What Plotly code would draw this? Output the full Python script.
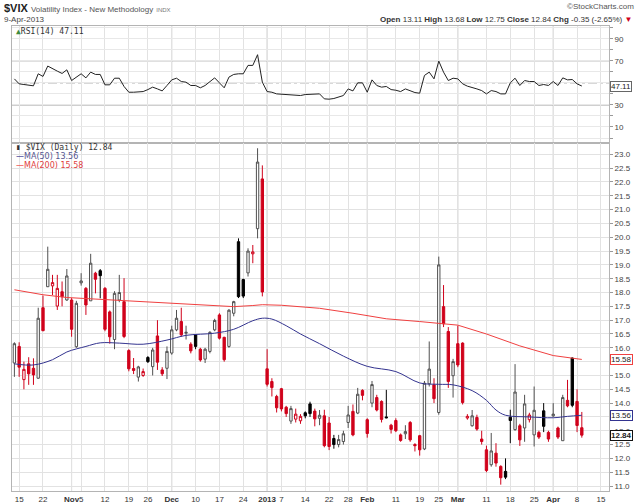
import plotly.graph_objects as go
from plotly.subplots import make_subplots

# $VIX daily, 12-Oct-2012 .. 9-Apr-2013, trading days only (x = day number)
opens = [15.45, 16.05, 14.85, 15.42, 15.26, 14.90, 17.45, 18.21, 18.24, 17.51,
         18.03, 17.73, 17.73, 16.04, 18.35, 18.15, 17.70, 18.70, 18.79, 18.15,
         17.30, 16.30, 17.73, 17.67, 15.90, 15.25, 14.94, 15.00, 15.65, 15.32,
         16.43, 15.20, 15.26, 15.81, 16.65, 16.95, 16.53, 16.13, 16.47, 15.95,
         15.59, 15.87, 16.65, 17.19, 16.38, 16.05, 17.25, 19.84, 18.47, 18.71,
         19.40, 20.31, 22.11, 15.24, 14.78, 14.24, 14.52, 13.85, 13.35, 13.42,
         13.36, 13.65, 13.97, 13.71, 13.45, 13.54, 13.28, 12.72, 12.50, 12.61,
         13.30, 13.70, 13.64, 14.46, 13.40, 14.00, 14.20, 14.06, 13.50, 13.20,
         13.37, 12.85, 12.89, 13.30, 12.50, 12.82, 12.34, 14.70, 14.66, 13.66,
         17.49, 16.59, 14.99, 16.15, 16.17, 13.46, 13.18, 13.48, 12.70, 12.31,
         11.77, 12.19, 11.71, 11.53, 13.49, 13.04, 13.18, 13.10, 13.40, 12.85,
         12.94, 13.72, 12.94, 13.54, 13.10, 12.64, 14.10, 15.63, 14.06, 13.11]
highs = [16.20, 16.20, 15.50, 15.66, 15.62, 17.45, 17.89, 19.66, 18.64, 18.64,
         18.40, 18.85, 17.80, 17.70, 18.70, 18.20, 19.40, 18.75, 18.85, 18.20,
         17.35, 18.05, 18.64, 18.52, 15.95, 15.63, 15.35, 15.25, 15.70, 16.00,
         17.00, 15.30, 16.05, 16.80, 17.37, 17.45, 16.80, 16.20, 16.50, 16.00,
         16.00, 16.60, 17.05, 17.25, 16.40, 17.40, 17.70, 19.96, 18.50, 19.60,
         19.72, 23.22, 22.60, 15.95, 14.90, 14.30, 14.55, 13.90, 13.90, 13.80,
         13.60, 13.70, 14.05, 13.80, 13.75, 13.76, 13.50, 12.85, 12.85, 13.00,
         13.90, 13.95, 14.55, 14.50, 13.45, 14.80, 14.30, 14.10, 14.48, 13.25,
         13.45, 12.90, 13.20, 13.35, 12.55, 12.85, 14.80, 16.23, 14.90, 19.30,
         18.27, 16.75, 15.60, 16.80, 16.20, 13.60, 13.75, 13.58, 13.00, 12.46,
         12.92, 12.55, 11.75, 12.00, 13.76, 15.41, 13.25, 14.30, 13.65, 14.60,
         13.00, 14.00, 13.00, 14.00, 13.15, 14.30, 14.84, 15.65, 14.50, 13.68]
lows = [14.95, 14.95, 14.50, 14.66, 14.66, 14.88, 16.60, 18.20, 17.91, 17.37,
        17.50, 17.70, 16.40, 16.00, 18.25, 17.19, 17.70, 17.97, 17.79, 16.60,
        16.15, 15.95, 17.65, 16.35, 15.15, 15.05, 14.78, 14.95, 15.45, 15.00,
        15.20, 14.98, 14.87, 15.75, 16.60, 16.40, 16.30, 15.80, 15.95, 15.50,
        15.45, 15.80, 16.60, 16.30, 15.50, 16.00, 17.14, 17.80, 17.80, 18.58,
        19.06, 19.96, 17.86, 14.60, 14.24, 13.66, 13.70, 13.50, 13.25, 13.30,
        13.25, 13.45, 13.50, 13.16, 13.20, 12.40, 12.30, 12.35, 12.40, 12.50,
        13.10, 12.80, 13.60, 14.10, 12.75, 13.85, 13.70, 13.30, 13.45, 12.90,
        12.95, 12.60, 12.70, 12.60, 12.25, 12.10, 12.30, 14.60, 14.00, 13.58,
        16.75, 14.55, 14.20, 15.30, 13.95, 13.40, 13.15, 13.00, 12.50, 11.50,
        11.70, 11.70, 11.05, 11.25, 12.55, 13.00, 12.45, 12.60, 13.30, 12.43,
        12.70, 12.95, 12.60, 13.50, 12.70, 12.64, 13.85, 13.85, 12.95, 12.75]
closes = [16.15, 15.30, 15.22, 15.06, 15.02, 17.07, 16.62, 18.84, 18.36, 18.15,
          17.85, 18.60, 16.67, 17.61, 18.42, 17.55, 19.06, 18.48, 18.61, 16.67,
          16.40, 17.97, 18.00, 16.41, 15.24, 15.18, 15.31, 15.14, 15.50, 15.92,
          15.48, 15.06, 15.87, 16.65, 17.07, 16.47, 16.56, 15.89, 16.05, 15.56,
          15.95, 16.56, 16.99, 16.35, 15.57, 17.36, 17.67, 17.85, 17.87, 19.50,
          19.47, 22.72, 18.02, 14.68, 14.56, 13.83, 13.79, 13.62, 13.80, 13.60,
          13.52, 13.54, 13.62, 13.43, 13.56, 12.46, 12.43, 12.50, 12.68, 12.89,
          13.57, 12.85, 14.32, 14.28, 12.90, 14.67, 13.75, 13.41, 13.47, 13.05,
          13.00, 12.65, 12.97, 12.67, 12.46, 12.31, 14.72, 15.23, 14.16, 19.00,
          16.87, 14.78, 15.50, 15.38, 14.02, 13.52, 13.54, 13.06, 12.61, 11.56,
          12.27, 11.83, 11.30, 11.32, 13.37, 14.40, 12.67, 13.97, 13.57, 13.74,
          12.77, 13.16, 12.70, 13.60, 12.77, 14.20, 13.90, 13.92, 13.19, 12.84]

rsi = [53.6, 49.1, 48.5, 48.2, 47.3, 58.2, 55.8, 65.2, 62.7, 60.6,
       58.5, 61.8, 52.1, 55.2, 58.2, 54.5, 59.7, 57.6, 57.6, 48.2,
       48.2, 54.2, 54.2, 46.7, 41.5, 41.5, 41.8, 42.1, 43.9, 46.1,
       44.5, 42.7, 47.6, 52.7, 54.2, 51.2, 50.6, 47.6, 47.6, 45.5,
       47.6, 51.5, 54.5, 50.0, 45.5, 55.2, 57.6, 58.2, 58.2, 65.8,
       65.8, 75.5, 50.6, 42.1, 41.5, 40.0, 39.7, 39.4, 39.1, 39.1,
       38.5, 39.4, 39.7, 39.4, 40.0, 35.5, 35.2, 35.8, 37.0, 38.5,
       44.5, 42.7, 50.0, 50.0, 41.5, 52.7, 47.6, 46.1, 46.7, 43.9,
       43.3, 42.1, 44.5, 42.7, 41.2, 40.6, 56.7, 59.7, 53.6, 69.7,
       59.7, 52.1, 54.2, 53.6, 49.1, 47.0, 46.1, 44.5, 43.0, 40.0,
       43.0, 42.1, 40.0, 40.0, 50.0, 54.2, 47.6, 52.1, 51.2, 51.2,
       47.6, 48.5, 47.6, 51.2, 47.6, 54.5, 52.7, 53.0, 49.1, 47.11]

# moving averages at some days
ma50_day = [0, 4, 8, 11, 15, 18, 22, 27, 32, 36, 42, 46, 50, 52, 54, 57, 60, 64,
            69, 74, 80, 85, 89, 92, 96, 99, 101, 103, 108, 113, 116, 119]
ma50 = [15.42, 15.38, 15.57, 15.85, 16.05, 16.18, 16.17, 16.13, 16.28, 16.45,
        16.53, 16.67, 16.98, 17.07, 17.04, 16.80, 16.50, 16.15, 15.70, 15.33,
        15.14, 14.73, 14.68, 14.66, 14.45, 14.10, 13.75, 13.56, 13.50, 13.47,
        13.52, 13.56]
ma200_day = [0, 6, 11, 20, 28, 34, 42, 46, 50, 52, 56, 60, 64, 71, 78, 85, 90,
             93, 99, 106, 113, 119]
ma200 = [18.10, 17.92, 17.82, 17.73, 17.67, 17.60, 17.52, 17.49, 17.53, 17.56,
         17.54, 17.49, 17.43, 17.25, 17.05, 16.95, 16.88, 16.82, 16.50, 16.07,
         15.72, 15.58]

tick_day = [1, 6, 12, 14, 19, 24, 28, 33, 38, 43, 48, 53, 56, 61, 66, 70, 74,
            80, 85, 89, 93, 99, 104, 109, 113, 118, 123]
tick_text = ['15', '22', '<b>Nov</b>', '5', '12', '19', '26', '<b>Dec</b>', '10',
             '17', '24', '<b>2013</b>', '7', '14', '22', '28', '<b>Feb</b>', '11',
             '19', '25', '<b>Mar</b>', '11', '18', '25', '<b>Apr</b>', '8', '15']
month_day = [12, 33, 53, 74, 93, 113]

days = list(range(len(closes)))
# StockCharts colouring: black when close >= previous close, red otherwise
up = [i == 0 or closes[i] >= closes[i - 1] for i in days]

RED = '#d0021b'
GREY = '#505050'

fig = make_subplots(rows=2, cols=1, shared_xaxes=True, vertical_spacing=0,
                    row_heights=[0.2516, 0.7484])

for flag, col_line, col_fill in [(True, GREY, 'black'), (False, RED, RED)]:
    sel = [i for i in days if up[i] == flag]
    fig.add_trace(go.Candlestick(
        x=sel,
        open=[opens[i] for i in sel], high=[highs[i] for i in sel],
        low=[lows[i] for i in sel], close=[closes[i] for i in sel],
        increasing=dict(line=dict(color=col_line, width=1), fillcolor='white'),
        decreasing=dict(line=dict(color=col_fill if flag else RED, width=1),
                        fillcolor=col_fill),
        whiskerwidth=0, showlegend=False, hoverinfo='skip'), row=2, col=1)

fig.add_trace(go.Scatter(x=ma200_day, y=ma200, mode='lines',
                         line=dict(color='#f04040', width=1), showlegend=False),
              row=2, col=1)
fig.add_trace(go.Scatter(x=ma50_day, y=ma50, mode='lines', line_shape='spline',
                         line=dict(color='#33338f', width=1), showlegend=False),
              row=2, col=1)
fig.add_trace(go.Scatter(x=days, y=rsi, mode='lines',
                         line=dict(color='#222222', width=1), showlegend=False),
              row=1, col=1)

xa = dict(range=[-0.5, 124.7], tickvals=tick_day, ticktext=tick_text,
          showgrid=True, gridcolor='#e2e2e2', zeroline=False,
          showline=True, mirror=True, linecolor='#b4b4b4',
          rangeslider=dict(visible=False), ticks='', tickangle=0, automargin=False,
          tickfont=dict(family='Liberation Sans', size=8, color='#333'))
fig.update_xaxes(**xa)
fig.update_xaxes(showticklabels=False, row=1, col=1)

rsi_ticks = list(range(0, 101, 10))
fig.update_yaxes(range=[-4.5, 101.5], side='right', tickvals=rsi_ticks,
                 ticktext=[str(v) if v in (10, 30, 50, 70, 90) else '' for v in rsi_ticks],
                 showgrid=True, gridcolor='#e8e8e8', zeroline=False,
                 showline=True, mirror=True, linecolor='#b4b4b4',
                 ticks='outside', ticklen=3, tickcolor='#999', automargin=False,
                 tickfont=dict(family='Liberation Sans', size=8, color='#444'),
                 row=1, col=1)
fig.update_yaxes(range=[10.82, 23.41], side='right', dtick=0.5, tick0=11,
                 tickformat='.1f', showgrid=True, gridcolor='#e2e2e2',
                 zeroline=False, showline=True, mirror=True, linecolor='#b4b4b4',
                 ticks='outside', ticklen=3, tickcolor='#999', automargin=False,
                 tickfont=dict(family='Liberation Sans', size=8, color='#444'),
                 row=2, col=1)

# darker month separators in both panels
for d in month_day:
    for yr in ('y domain', 'y2 domain'):
        fig.add_shape(type='line', xref='x', yref=yr, x0=d, x1=d, y0=0, y1=1,
                      line=dict(color='#c4c4c4', width=1), layer='below')
# RSI levels
for lvl, dash in [(70, 'solid'), (30, 'solid'), (50, 'dashdot')]:
    fig.add_shape(type='line', xref='x domain', yref='y', x0=0, x1=1, y0=lvl, y1=lvl,
                  line=dict(color='#8a8a8a', width=1, dash=dash), layer='below')

last = len(closes) - 1
chg = closes[last] - closes[last - 1]
pct = chg / closes[last - 1] * 100
F = 'Liberation Sans'
ann = [
    dict(x=-0.017, y=1.039, xanchor='left', yanchor='middle',
         text="<b>$VIX</b> <span style='font-size:8px;color:#555'>Volatility Index - New Methodology</span>"
              " <span style='font-size:6px;color:#777'>INDX</span>",
         font=dict(family=F, size=11, color='#222')),
    dict(x=-0.017, y=1.015, xanchor='left', yanchor='middle', text='9-Apr-2013',
         font=dict(family=F, size=8, color='#444')),
    dict(x=1.045, y=1.041, xanchor='right', yanchor='middle', text='©StockCharts.com',
         font=dict(family=F, size=8, color='#555')),
    dict(x=1.042, y=1.015, xanchor='right', yanchor='middle',
         text=("<b>Open</b> %.2f <b>High</b> %.2f <b>Low</b> %.2f <b>Close</b> %.2f "
               "<b>Chg</b> %.2f (%.2f%%) <span style='color:#d0021b'>▼</span>"
               % (opens[last], highs[last], lows[last], closes[last], chg, pct)),
         font=dict(family=F, size=8, color='#333')),
    dict(x=0.003, y=0.989, xanchor='left', yanchor='middle',
         text="<span style='color:#3d8b3d'>▲</span>RSI(14) %.2f" % rsi[last],
         font=dict(family='DejaVu Sans Mono', size=8, color='#333')),
    dict(x=0.003, y=0.738, xanchor='left', yanchor='middle',
         text="<b>▮</b> $VIX (Daily) %.2f" % closes[last],
         font=dict(family='DejaVu Sans Mono', size=8, color='#333')),
    dict(x=0.003, y=0.720, xanchor='left', yanchor='middle',
         text="<span style='color:#33338f'>—</span>MA(50) %.2f" % ma50[-1],
         font=dict(family='DejaVu Sans', size=8, color='#55558f')),
    dict(x=0.003, y=0.701, xanchor='left', yanchor='middle',
         text="<span style='color:#f04040'>—</span>MA(200) %.2f" % ma200[-1],
         font=dict(family='DejaVu Sans', size=8, color='#e04040')),
]
for a in ann:
    a.update(xref='paper', yref='paper', showarrow=False)
    fig.add_annotation(**a)

# value tags on the right axis
for val, yref, border, txt in [(ma200[-1], 'y2', '#f04040', '%.2f' % ma200[-1]),
                               (ma50[-1], 'y2', '#33338f', '%.2f' % ma50[-1]),
                               (closes[last], 'y2', '#111', '<b>%.2f</b>' % closes[last]),
                               (rsi[last], 'y', '#666', '%.2f' % rsi[last])]:
    fig.add_annotation(xref='paper', yref=yref, x=1.0, y=val, xanchor='left',
                       xshift=1, showarrow=False, text=txt, bgcolor='white',
                       bordercolor=border, borderwidth=1, borderpad=0,
                       font=dict(family=F, size=8, color='#222'))

fig.update_layout(width=640, height=503, margin=dict(l=12, r=31, t=26, b=12),
                  paper_bgcolor='white', plot_bgcolor='white', boxmode='overlay',
                  showlegend=False)

# drop the default page margin so the 640x503 figure fills the window
fig.write_html("out.html", config={'displayModeBar': False},
               post_script="document.body.style.margin='0';document.body.style.overflow='hidden';")
